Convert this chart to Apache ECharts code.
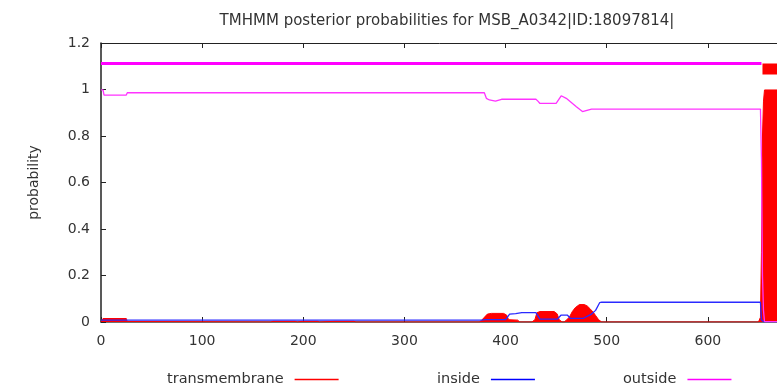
<!DOCTYPE html>
<html>
<head>
<meta charset="utf-8">
<script src="https://cdn.jsdelivr.net/npm/echarts@6/dist/echarts.min.js"></script>
<style>html,body{margin:0;padding:0;background:#fff}#c{width:777px;height:385px}</style>
</head>
<body>
<div id="c"></div>
<script>
// ---- data ----
const titleText = 'TMHMM posterior probabilities for MSB_A0342|ID:18097814|';
const xTicks = [0, 100, 200, 300, 400, 500, 600, 700];
const yTicks = [0, 0.2, 0.4, 0.6, 0.8, 1, 1.2];

// transmembrane posterior (filled)
const tmX = [0, 2, 25, 26, 168, 170, 192, 194, 199, 214, 216, 231, 250, 252,
  374, 376, 379, 382, 386, 398, 401, 403, 412, 414,
  426, 429, 431, 434, 448, 451, 453, 456,
  458, 460, 463, 466, 469, 473, 478, 481, 484, 487, 489, 492, 495,
  650, 652, 653, 654, 655, 656, 680];
const tmY = [0, 0.015, 0.015, 0.002, 0, 0.003, 0.003, 0, 0.003, 0.003, 0, 0.003, 0.003, 0,
  0, 0.006, 0.02, 0.034, 0.037, 0.037, 0.03, 0.01, 0.008, 0,
  0, 0.01, 0.04, 0.045, 0.045, 0.035, 0.01, 0,
  0, 0.008, 0.02, 0.045, 0.062, 0.075, 0.075, 0.068, 0.055, 0.04, 0.028, 0.01, 0,
  0, 0.02, 0.3, 0.8, 0.95, 0.998, 0.998];

// inside posterior
const inX = [0, 376, 380, 400, 404, 410, 416, 430, 434, 451, 455, 461, 464, 477, 485, 489, 493, 495, 652, 653, 655, 680];
const inY = [0.008, 0.008, 0.01, 0.01, 0.034, 0.036, 0.04, 0.04, 0.012, 0.012, 0.03, 0.03, 0.016, 0.016, 0.034, 0.05, 0.083, 0.085, 0.085, 0.01, 0.002, 0.001];

// outside posterior
const outX = [0, 2, 3, 25, 26, 379, 381, 384, 390, 396, 430, 432, 434, 450, 455, 460, 470, 476, 485, 652, 653, 654, 655, 656, 680];
const outY = [0.998, 0.998, 0.976, 0.976, 0.986, 0.986, 0.962, 0.955, 0.95, 0.958, 0.958, 0.95, 0.94, 0.94, 0.973, 0.962, 0.926, 0.905, 0.916, 0.916, 0.7, 0.2, 0.05, 0.002, 0.002];

// topology bar
const topOutsideX = [0, 653];
const topLevel = 1.112;
const topTmStart = 654, topTmEnd = 700, topTmLow = 1.065;

const pairs = (xs, ys) => xs.map((x, i) => [x, ys[i]]);
const font = 'DejaVu Sans';
const legendText = {fontFamily: font, fontSize: 14.5, color: '#333', padding: [0, 6, 0, 0]};

const chart = echarts.init(document.getElementById('c'), null, {renderer: 'canvas'});
chart.setOption({
  animation: false,
  backgroundColor: '#fff',
  title: {
    text: titleText, left: 442, top: 9, textAlign: 'center',
    textStyle: {fontFamily: font, fontSize: 15, fontWeight: 'normal', color: '#333'}
  },
  grid: {left: 101, top: 43, width: 708, height: 279, containLabel: false, outerBoundsMode: 'none'},
  legend: [
    {data: ['transmembrane'], left: 162, top: 367, align: 'right', icon: 'rect', itemWidth: 44, itemHeight: 1.5, textStyle: legendText},
    {data: ['inside'], left: 432, top: 367, align: 'right', icon: 'rect', itemWidth: 44, itemHeight: 1.5, textStyle: legendText},
    {data: ['outside'], left: 618, top: 367, align: 'right', icon: 'rect', itemWidth: 44, itemHeight: 1.5, textStyle: legendText}
  ],
  xAxis: [
    {type: 'value', min: xTicks[0], max: xTicks[xTicks.length - 1], interval: 100, position: 'bottom',
      axisLine: {onZero: false, lineStyle: {color: '#444', width: 1.5}},
      axisTick: {inside: true, length: 5, lineStyle: {color: '#222'}},
      axisLabel: {fontFamily: font, fontSize: 14, color: '#333', margin: 12},
      splitLine: {show: false}},
    {type: 'value', min: xTicks[0], max: xTicks[xTicks.length - 1], interval: 100, position: 'top',
      axisLine: {onZero: false, lineStyle: {color: '#222', width: 1}},
      axisTick: {inside: true, length: 5, lineStyle: {color: '#222'}},
      axisLabel: {show: false}, splitLine: {show: false}}
  ],
  yAxis: {
    type: 'value', min: yTicks[0], max: yTicks[yTicks.length - 1], interval: 0.2,
    name: 'probability', nameLocation: 'middle', nameGap: 60, nameRotate: 90,
    nameTextStyle: {fontFamily: font, fontSize: 14, color: '#333'},
    axisLine: {show: true, lineStyle: {color: '#222', width: 1.5}},
    axisTick: {show: true, inside: true, length: 5, lineStyle: {color: '#222'}},
    axisLabel: {fontFamily: font, fontSize: 14, color: '#333', margin: 11, formatter: v => String(+v.toFixed(1))},
    splitLine: {show: false}
  },
  series: [
    {name: 'transmembrane', type: 'line', data: pairs(tmX, tmY), showSymbol: false, z: 2,
      itemStyle: {color: '#ff0000'}, lineStyle: {color: '#ff0000', width: 1},
      areaStyle: {color: '#ff0000', opacity: 1},
      markArea: {silent: true, itemStyle: {color: '#ff0000', opacity: 1},
        data: [[{coord: [topTmStart, topTmLow]}, {coord: [topTmEnd, topLevel]}]]}},
    {name: 'inside', type: 'line', data: pairs(inX, inY), showSymbol: false, z: 3,
      itemStyle: {color: '#0000ff'}, lineStyle: {color: '#2a2aff', width: 1.3}},
    {name: 'outside', type: 'line', data: pairs(outX, outY), showSymbol: false, z: 4,
      itemStyle: {color: '#ff00ff'}, lineStyle: {color: '#ff33ff', width: 1.3}},
    {name: 'topology', type: 'line', data: topOutsideX.map(x => [x, topLevel]), showSymbol: false, z: 4,
      lineStyle: {color: '#ff00ff', width: 3}}
  ]
});
</script>
</body>
</html>
